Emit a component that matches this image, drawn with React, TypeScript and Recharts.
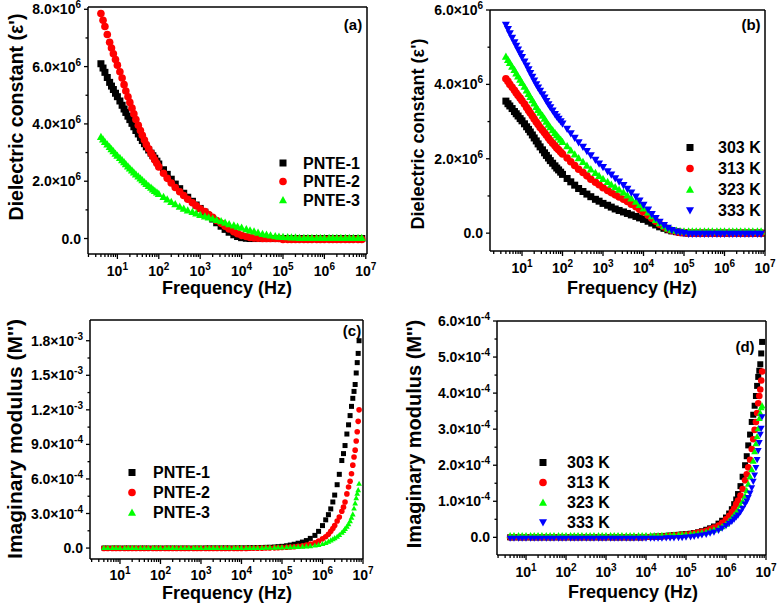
import { ReferenceLine, Scatter, ScatterChart, XAxis, YAxis } from 'recharts';

const FONT = '"Liberation Sans", Arial, Helvetica, sans-serif';

// frequency grid (Hz) for panels a and b (denser below 100 Hz where the curves are steep)
const FREQ_AB = [
  4, 4.5, 5, 5.7, 6.5, 7.2, 8, 9, 10, 11.5, 13, 14.5, 16, 18, 20, 22.5, 25, 28, 32, 36, 40, 45, 50, 57,
  65, 72, 80, 90, 100, 130, 160, 200, 250, 320, 400, 500, 650, 800, 1e3, 1.3e3, 1.6e3, 2e3, 2.5e3,
  3.2e3, 4e3, 5e3, 6.5e3, 8e3, 1e4, 1.3e4, 1.6e4, 2e4, 2.5e4, 3.2e4, 4e4, 5e4, 6.5e4, 8e4, 1e5,
  1.3e5, 1.6e5, 2e5, 2.5e5, 3.2e5, 4e5, 5e5, 6.5e5, 8e5, 1e6, 1.3e6, 1.6e6, 2e6, 2.5e6, 3.2e6, 4e6,
  5e6, 6.5e6, 8e6,
];

// frequency grid (Hz) for panels c and d (denser at the top end)
const FREQ_CD = [
  4, 5, 6.5, 8, 10, 13, 16, 20, 25, 32, 40, 50, 65, 80, 100, 130, 160, 200, 250, 320, 400, 500, 650,
  800, 1e3, 1.3e3, 1.6e3, 2e3, 2.5e3, 3.2e3, 4e3, 5e3, 6.5e3, 8e3, 1e4, 1.3e4, 1.6e4, 2e4, 2.5e4,
  3.2e4, 4e4, 5e4, 6.5e4, 8e4, 1e5, 1.3e5, 1.6e5, 2e5, 2.5e5, 3.2e5, 4e5, 5e5, 6.5e5, 8e5, 1e6,
  1.2e6, 1.4e6, 1.6e6, 1.8e6, 2e6, 2.3e6, 2.6e6, 3e6, 3.3e6, 3.6e6, 4e6, 4.4e6, 4.8e6, 5.2e6, 5.6e6,
  6e6, 6.4e6, 6.8e6, 7.2e6, 7.6e6, 8e6,
];

// (a) dielectric constant, x10^6
const A_PNTE1 = [
  6.1, 5.95, 5.8, 5.62, 5.45, 5.32, 5.2, 5.07, 4.95, 4.8, 4.65, 4.52, 4.4, 4.27, 4.15, 4.02, 3.9,
  3.77, 3.65, 3.53, 3.42, 3.31, 3.2, 3.09, 2.98, 2.89, 2.8, 2.7, 2.6, 2.4, 2.24, 2.07, 1.9, 1.74,
  1.58, 1.44, 1.3, 1.17, 1.05, 0.92, 0.8, 0.68, 0.55, 0.43, 0.32, 0.22, 0.13, 0.07, 0.03, 0.01, 0, 0,
  0, 0, 0, 0, 0, 0, 0, 0, 0, 0, 0, 0, 0, 0, 0, 0, 0, 0, 0, 0, 0, 0, 0, 0, 0, 0,
];
const A_PNTE2 = [
  7.85, 7.62, 7.4, 7.12, 6.85, 6.65, 6.45, 6.25, 6.05, 5.82, 5.6, 5.37, 5.15, 4.95, 4.75, 4.55, 4.35,
  4.15, 3.95, 3.77, 3.6, 3.44, 3.28, 3.13, 2.98, 2.86, 2.74, 2.62, 2.5, 2.28, 2.1, 1.94, 1.78, 1.63,
  1.5, 1.37, 1.25, 1.14, 1.04, 0.94, 0.84, 0.74, 0.63, 0.53, 0.43, 0.33, 0.24, 0.17, 0.11, 0.07, 0.04,
  0.02, 0.01, 0, 0, 0, 0, 0, -0.03, -0.03, -0.03, -0.03, -0.03, -0.03, -0.03, -0.03, -0.03, -0.03,
  -0.03, -0.03, -0.03, -0.03, -0.03, -0.03, -0.03, -0.03, -0.03, -0.03,
];
const A_PNTE3 = [
  3.55, 3.46, 3.38, 3.29, 3.2, 3.12, 3.05, 2.97, 2.9, 2.82, 2.74, 2.67, 2.6, 2.52, 2.45, 2.38, 2.31,
  2.24, 2.17, 2.1, 2.04, 1.97, 1.91, 1.84, 1.78, 1.72, 1.67, 1.61, 1.56, 1.46, 1.37, 1.28, 1.2, 1.12,
  1.05, 0.99, 0.93, 0.88, 0.83, 0.78, 0.74, 0.7, 0.65, 0.61, 0.56, 0.51, 0.46, 0.42, 0.38, 0.33, 0.29,
  0.25, 0.21, 0.17, 0.14, 0.11, 0.09, 0.07, 0.06, 0.05, 0.04, 0.04, 0.03, 0.03, 0.03, 0.03, 0.03,
  0.03, 0.03, 0.03, 0.03, 0.03, 0.03, 0.03, 0.03, 0.03, 0.03, 0.03,
];

// (b) dielectric constant vs temperature, x10^6
const B_303K = [
  3.55, 3.48, 3.42, 3.35, 3.27, 3.21, 3.15, 3.08, 3.02, 2.94, 2.86, 2.79, 2.72, 2.64, 2.56, 2.48, 2.4,
  2.32, 2.24, 2.16, 2.09, 2.02, 1.95, 1.88, 1.81, 1.75, 1.7, 1.64, 1.58, 1.47, 1.38, 1.29, 1.2, 1.12,
  1.05, 0.98, 0.91, 0.86, 0.8, 0.75, 0.7, 0.65, 0.61, 0.57, 0.53, 0.49, 0.45, 0.41, 0.37, 0.32, 0.27,
  0.22, 0.17, 0.13, 0.09, 0.06, 0.04, 0.02, 0.01, 0, 0, 0, 0, 0, 0, 0, 0, 0, 0, 0, 0, 0, 0, 0, 0, 0, 0,
  0,
];
const B_313K = [
  4.15, 4.08, 4.0, 3.92, 3.84, 3.77, 3.7, 3.63, 3.56, 3.47, 3.38, 3.3, 3.23, 3.15, 3.07, 2.99, 2.92,
  2.84, 2.77, 2.7, 2.63, 2.56, 2.49, 2.42, 2.35, 2.29, 2.24, 2.18, 2.13, 2.02, 1.92, 1.82, 1.72, 1.63,
  1.54, 1.45, 1.37, 1.3, 1.22, 1.15, 1.09, 1.03, 0.97, 0.91, 0.85, 0.78, 0.71, 0.64, 0.57, 0.48, 0.4,
  0.32, 0.24, 0.17, 0.11, 0.07, 0.04, 0.02, 0.01, 0, 0, 0, 0, 0, 0, 0, 0, 0, 0, 0, 0, 0, 0, 0, 0, 0, 0,
  0,
];
const B_323K = [
  4.75, 4.66, 4.58, 4.48, 4.39, 4.3, 4.22, 4.13, 4.04, 3.94, 3.84, 3.75, 3.67, 3.58, 3.49, 3.4, 3.32,
  3.24, 3.16, 3.08, 3.0, 2.92, 2.85, 2.77, 2.7, 2.64, 2.58, 2.52, 2.46, 2.34, 2.23, 2.12, 2.02, 1.92,
  1.82, 1.72, 1.62, 1.54, 1.46, 1.38, 1.31, 1.24, 1.17, 1.1, 1.02, 0.94, 0.85, 0.76, 0.67, 0.56, 0.46,
  0.36, 0.27, 0.19, 0.13, 0.09, 0.07, 0.06, 0.05, 0.05, 0.05, 0.05, 0.05, 0.05, 0.05, 0.05, 0.05,
  0.05, 0.05, 0.05, 0.05, 0.05, 0.05, 0.05, 0.05, 0.05, 0.05, 0.05,
];
const B_333K = [
  5.6, 5.48, 5.37, 5.25, 5.13, 5.03, 4.93, 4.83, 4.73, 4.61, 4.5, 4.4, 4.3, 4.2, 4.1, 4.0, 3.91, 3.82,
  3.73, 3.64, 3.55, 3.46, 3.38, 3.29, 3.2, 3.13, 3.07, 3.0, 2.94, 2.8, 2.68, 2.56, 2.44, 2.32, 2.2,
  2.09, 1.97, 1.87, 1.77, 1.66, 1.57, 1.47, 1.38, 1.29, 1.19, 1.09, 0.98, 0.87, 0.76, 0.63, 0.51,
  0.4, 0.3, 0.21, 0.14, 0.08, 0.04, 0.02, 0, -0.02, -0.02, -0.02, -0.02, -0.02, -0.02, -0.02, -0.02,
  -0.02, -0.02, -0.02, -0.02, -0.02, -0.02, -0.02, -0.02, -0.02, -0.02, -0.02,
];

// (c) imaginary modulus, x10^-4
const C_PNTE1 = [
  0, 0, 0, 0, 0, 0, 0, 0, 0, 0, 0, 0, 0, 0, 0, 0, 0, 0, 0, 0, 0, 0, 0, 0, 0, 0.01, 0.01, 0.01, 0.01,
  0.01, 0.01, 0.01, 0.01, 0.01, 0.02, 0.02, 0.03, 0.03, 0.04, 0.05, 0.06, 0.07, 0.09, 0.12, 0.15, 0.2,
  0.26, 0.33, 0.42, 0.52, 0.65, 0.84, 1.1, 1.45, 1.95, 2.45, 2.9, 3.4, 4.0, 4.6, 5.5, 6.4, 7.6, 8.2,
  8.9, 9.9, 10.7, 11.5, 12.3, 13.0, 13.6, 14.2, 15.2, 16.1, 16.9, 18.0,
];
const C_PNTE2 = [
  -0.03, -0.03, -0.03, -0.03, -0.03, -0.03, -0.03, -0.03, -0.03, -0.03, -0.03, -0.03, -0.03, -0.03,
  -0.03, -0.03, -0.03, -0.03, -0.03, -0.03, -0.03, -0.03, -0.03, -0.03, -0.03, -0.03, -0.03, -0.03,
  -0.03, -0.03, -0.03, -0.03, -0.03, -0.03, -0.03, -0.03, -0.02, -0.02, -0.01, -0.01, 0, 0.01, 0.02,
  0.03, 0.05, 0.07, 0.09, 0.12, 0.16, 0.2, 0.26, 0.34, 0.46, 0.6, 0.8, 0.98, 1.2, 1.45, 1.7, 1.95,
  2.35, 2.7, 3.2, 3.55, 4.0, 4.7, 5.3, 5.8, 6.45, 7.2, 7.9, 8.5, 9.3, 10.1, 11.0, 12.0,
];
const C_PNTE3 = [
  0.03, 0.03, 0.03, 0.03, 0.03, 0.03, 0.03, 0.03, 0.03, 0.03, 0.03, 0.03, 0.03, 0.03, 0.03, 0.03,
  0.03, 0.03, 0.03, 0.03, 0.03, 0.03, 0.03, 0.03, 0.03, 0.03, 0.03, 0.03, 0.03, 0.03, 0.03, 0.03,
  0.03, 0.03, 0.03, 0.03, 0.03, 0.04, 0.04, 0.04, 0.05, 0.05, 0.06, 0.07, 0.08, 0.09, 0.1, 0.11, 0.12,
  0.14, 0.16, 0.19, 0.24, 0.3, 0.37, 0.47, 0.58, 0.68, 0.78, 0.88, 1.0, 1.15, 1.35, 1.5, 1.68, 1.88,
  2.1, 2.35, 2.65, 2.95, 3.45, 3.9, 4.35, 4.75, 5.05, 5.6,
];

// (d) imaginary modulus vs temperature, x10^-4
const D_303K = [
  0, 0, 0, 0, 0, 0, 0, 0, 0, 0, 0, 0, 0, 0, 0, 0, 0, 0, 0, 0, 0, 0, 0, 0, 0, 0, 0, 0, 0, 0, 0, 0, 0, 0,
  0.01, 0.01, 0.02, 0.02, 0.03, 0.04, 0.05, 0.06, 0.07, 0.08, 0.09, 0.1, 0.12, 0.14, 0.17, 0.21, 0.25,
  0.3, 0.38, 0.46, 0.55, 0.66, 0.78, 0.92, 1.05, 1.2, 1.42, 1.68, 2.0, 2.25, 2.55, 2.85, 3.2, 3.4,
  3.65, 3.92, 4.2, 4.45, 4.62, 4.8, 5.1, 5.42,
];
const D_313K = [
  0, 0, 0, 0, 0, 0, 0, 0, 0, 0, 0, 0, 0, 0, 0, 0, 0, 0, 0, 0, 0, 0, 0, 0, 0, 0, 0, 0, 0, 0, 0, 0, 0, 0,
  0.01, 0.01, 0.01, 0.02, 0.02, 0.03, 0.04, 0.05, 0.06, 0.07, 0.08, 0.09, 0.11, 0.13, 0.15, 0.18,
  0.22, 0.27, 0.33, 0.4, 0.5, 0.6, 0.7, 0.8, 0.92, 1.02, 1.16, 1.34, 1.58, 1.75, 1.94, 2.15, 2.45,
  2.72, 2.98, 3.2, 3.45, 3.72, 3.92, 4.1, 4.35, 4.6,
];
const D_323K = [
  0.05, 0.05, 0.05, 0.05, 0.05, 0.05, 0.05, 0.05, 0.05, 0.05, 0.05, 0.05, 0.05, 0.05, 0.05, 0.05,
  0.05, 0.05, 0.05, 0.05, 0.05, 0.05, 0.05, 0.05, 0.05, 0.05, 0.05, 0.05, 0.05, 0.05, 0.05, 0.05,
  0.05, 0.05, 0.05, 0.05, 0.05, 0.05, 0.06, 0.06, 0.06, 0.07, 0.07, 0.08, 0.08, 0.09, 0.1, 0.11, 0.13,
  0.15, 0.18, 0.21, 0.25, 0.3, 0.37, 0.46, 0.54, 0.62, 0.7, 0.75, 0.88, 1.0, 1.15, 1.3, 1.48, 1.68,
  1.88, 2.12, 2.38, 2.6, 2.8, 3.02, 3.3, 3.45, 3.6, 3.65,
];
const D_333K = [
  -0.03, -0.03, -0.03, -0.03, -0.03, -0.03, -0.03, -0.03, -0.03, -0.03, -0.03, -0.03, -0.03, -0.03,
  -0.03, -0.03, -0.03, -0.03, -0.03, -0.03, -0.03, -0.03, -0.03, -0.03, -0.03, -0.03, -0.03, -0.03,
  -0.03, -0.03, -0.03, -0.03, -0.03, -0.03, -0.03, -0.03, -0.03, -0.03, -0.03, -0.02, -0.02, -0.02,
  -0.01, -0.01, 0, 0.01, 0.02, 0.04, 0.06, 0.08, 0.11, 0.14, 0.19, 0.25, 0.32, 0.38, 0.44, 0.5, 0.56,
  0.61, 0.7, 0.8, 0.92, 1.0, 1.1, 1.22, 1.37, 1.55, 1.72, 1.93, 2.15, 2.4, 2.62, 2.85, 3.02, 3.34,
];

// axis ticks
const X_MAJOR = [10, 100, 1e3, 1e4, 1e5, 1e6, 1e7];
const X_DECADES = [1, 10, 100, 1e3, 1e4, 1e5, 1e6];
const X_MULTS = [2, 3, 4, 5, 6, 7, 8, 9];
const X_TICKS = [...X_MAJOR, ...X_DECADES.flatMap((d) => X_MULTS.map((m) => m * d))];

const A_Y_MAJOR = [0, 2, 4, 6, 8];
const A_Y_MINOR = [1, 3, 5, 7];
const A_Y_LABELS = [['0.0', ''], ['2.0', '6'], ['4.0', '6'], ['6.0', '6'], ['8.0', '6']];

const B_Y_MAJOR = [0, 2, 4, 6];
const B_Y_MINOR = [1, 3, 5];
const B_Y_LABELS = [['0.0', ''], ['2.0', '6'], ['4.0', '6'], ['6.0', '6']];

const C_Y_MAJOR = [0, 3, 6, 9, 12, 15, 18];
const C_Y_MINOR = [1.5, 4.5, 7.5, 10.5, 13.5, 16.5];
const C_Y_LABELS = [
  ['0.0', ''], ['3.0', '-4'], ['6.0', '-4'], ['9.0', '-4'], ['1.2', '-3'], ['1.5', '-3'], ['1.8', '-3'],
];

const D_Y_MAJOR = [0, 1, 2, 3, 4, 5, 6];
const D_Y_MINOR = [0.5, 1.5, 2.5, 3.5, 4.5, 5.5];
const D_Y_LABELS = [
  ['0.0', ''], ['1.0', '-4'], ['2.0', '-4'], ['3.0', '-4'], ['4.0', '-4'], ['5.0', '-4'], ['6.0', '-4'],
];

const BLACK = '#000000';
const RED = '#ff0000';
const GREEN = '#00ff00';
const BLUE = '#0000ff';

type Kind = 'square' | 'circle' | 'up' | 'down';

function Marker({ cx, cy, kind, size, color }: { cx: number; cy: number; kind: Kind; size: number; color: string }) {
  const h = size / 2;
  if (kind === 'square') return <rect x={cx - h} y={cy - h} width={size} height={size} fill={color} />;
  if (kind === 'circle') return <circle cx={cx} cy={cy} r={h + 0.3} fill={color} />;
  const t = h * 1.15;
  if (kind === 'up')
    return <polygon points={`${cx},${cy - t} ${cx - t},${cy + t * 0.8} ${cx + t},${cy + t * 0.8}`} fill={color} />;
  return <polygon points={`${cx},${cy + t} ${cx - t},${cy - t * 0.8} ${cx + t},${cy - t * 0.8}`} fill={color} />;
}

interface SeriesDef {
  name: string;
  values: number[];
  color: string;
  kind: Kind;
}

interface PanelProps {
  left: number;
  top: number;
  freq: number[];
  series: SeriesDef[];
  xDomain: [number, number];
  yDomain: [number, number];
  yMajor: number[];
  yMinor: number[];
  yLabels: string[][];
  margin: { top: number; right: number };
  yWidth: number;
  xHeight: number;
  size: number;
  labelDy: number;
}

function Panel(p: PanelProps) {
  const renderXTick = (props: any) => {
    const { x, y, payload } = props;
    const lg = Math.log10(payload.value);
    const major = Math.abs(lg - Math.round(lg)) < 1e-6;
    return (
      <g>
        <line x1={x} x2={x} y1={y} y2={y + (major ? 5 : 3)} stroke="#000" strokeWidth={1.3} />
        {major && (
          <text x={x} y={y + p.labelDy} textAnchor="middle" fontSize={14} fontWeight={700} fontFamily={FONT} fill="#000">
            10
            <tspan dy={-6} fontSize={10}>
              {Math.round(lg)}
            </tspan>
          </text>
        )}
      </g>
    );
  };

  const renderYTick = (props: any) => {
    const { x, y, payload } = props;
    const idx = p.yMajor.indexOf(payload.value);
    const major = idx >= 0;
    const lab = major ? p.yLabels[idx] : null;
    return (
      <g>
        <line x1={x} x2={x - (major ? 4 : 2.5)} y1={y} y2={y} stroke="#000" strokeWidth={1.3} />
        {lab && (
          <text x={x - 7} y={y + 5} textAnchor="end" fontSize={14} fontWeight={700} fontFamily={FONT} fill="#000">
            {lab[1] ? `${lab[0]}×10` : lab[0]}
            {lab[1] && (
              <tspan dy={-6} fontSize={10}>
                {lab[1]}
              </tspan>
            )}
          </text>
        )}
      </g>
    );
  };

  return (
    <div style={{ position: 'absolute', left: p.left, top: p.top }}>
      <ScatterChart
        width={390}
        height={308}
        margin={{ top: p.margin.top, right: p.margin.right, bottom: 0, left: 0 }}
      >
        <XAxis
          dataKey="f"
          type="number"
          scale="log"
          domain={p.xDomain}
          allowDataOverflow
          ticks={X_TICKS.filter((t) => t >= p.xDomain[0] && t <= p.xDomain[1])}
          interval={0}
          tickSize={0}
          tickMargin={0}
          tickLine={false}
          tick={renderXTick}
          height={p.xHeight}
          axisLine={{ stroke: '#000', strokeWidth: 1.5 }}
        />
        <YAxis
          dataKey="v"
          type="number"
          domain={p.yDomain}
          allowDataOverflow
          ticks={[...p.yMajor, ...p.yMinor]}
          interval={0}
          tickSize={0}
          tickMargin={0}
          tickLine={false}
          tick={renderYTick}
          width={p.yWidth}
          axisLine={{ stroke: '#000', strokeWidth: 1.5 }}
        />
        <ReferenceLine y={p.yDomain[1]} stroke="#000" strokeWidth={1.5} />
        <ReferenceLine x={p.xDomain[1]} stroke="#000" strokeWidth={1.5} />
        {p.series.map((s) => (
          <Scatter
            key={s.name}
            name={s.name}
            data={p.freq.map((f, i) => ({ f, v: s.values[i] }))}
            isAnimationActive={false}
            shape={(sp: any) => <Marker cx={sp.cx} cy={sp.cy} kind={s.kind} size={p.size} color={s.color} />}
          />
        ))}
      </ScatterChart>
    </div>
  );
}

const PNTE_SERIES = (vals: number[][]): SeriesDef[] => [
  { name: 'PNTE-1', values: vals[0], color: BLACK, kind: 'square' },
  { name: 'PNTE-2', values: vals[1], color: RED, kind: 'circle' },
  { name: 'PNTE-3', values: vals[2], color: GREEN, kind: 'up' },
];
const TEMP_SERIES = (vals: number[][]): SeriesDef[] => [
  { name: '303 K', values: vals[0], color: BLACK, kind: 'square' },
  { name: '313 K', values: vals[1], color: RED, kind: 'circle' },
  { name: '323 K', values: vals[2], color: GREEN, kind: 'up' },
  { name: '333 K', values: vals[3], color: BLUE, kind: 'down' },
];

function LegendBlock({ x, y, tx, gap, items }: { x: number; y: number; tx: number; gap: number; items: SeriesDef[] }) {
  return (
    <g>
      {items.map((s, i) => (
        <g key={s.name}>
          <Marker cx={x} cy={y + i * gap} kind={s.kind} size={7} color={s.color} />
          <text x={tx} y={y + i * gap + 5.8} fontSize={16} fontWeight={700} fontFamily={FONT} fill="#000">
            {s.name}
          </text>
        </g>
      ))}
    </g>
  );
}

export default function App() {
  const aSeries = PNTE_SERIES([A_PNTE1, A_PNTE2, A_PNTE3]);
  const bSeries = TEMP_SERIES([B_303K, B_313K, B_323K, B_333K]);
  const cSeries = PNTE_SERIES([C_PNTE1, C_PNTE2, C_PNTE3]);
  const dSeries = TEMP_SERIES([D_303K, D_313K, D_323K, D_333K]);
  const txt = { fontFamily: FONT, fontWeight: 700, fill: '#000' };

  return (
    <div style={{ position: 'absolute', left: 0, top: 0, width: 780, height: 616, background: '#fff', fontFamily: FONT }}>
      <Panel
        left={0}
        top={0}
        freq={FREQ_AB}
        series={aSeries}
        xDomain={[1.95, 1.07e7]}
        yDomain={[-0.54, 8.08]}
        yMajor={A_Y_MAJOR}
        yMinor={A_Y_MINOR}
        yLabels={A_Y_LABELS}
        margin={{ top: 7, right: 23 }}
        yWidth={88}
        xHeight={54}
        size={7}
        labelDy={22}
      />
      <Panel
        left={390}
        top={0}
        freq={FREQ_AB}
        series={bSeries}
        xDomain={[1.62, 1e7]}
        yDomain={[-0.48, 6]}
        yMajor={B_Y_MAJOR}
        yMinor={B_Y_MINOR}
        yLabels={B_Y_LABELS}
        margin={{ top: 10, right: 15 }}
        yWidth={100}
        xHeight={57}
        size={7}
        labelDy={22}
      />
      <Panel
        left={0}
        top={308}
        freq={FREQ_CD}
        series={cSeries}
        xDomain={[1.82, 1e7]}
        yDomain={[-0.95, 19.8]}
        yMajor={C_Y_MAJOR}
        yMinor={C_Y_MINOR}
        yLabels={C_Y_LABELS}
        margin={{ top: 12, right: 27 }}
        yWidth={90}
        xHeight={57}
        size={5}
        labelDy={21}
      />
      <Panel
        left={390}
        top={308}
        freq={FREQ_CD}
        series={dSeries}
        xDomain={[1.88, 1e7]}
        yDomain={[-0.49, 6]}
        yMajor={D_Y_MAJOR}
        yMinor={D_Y_MINOR}
        yLabels={D_Y_LABELS}
        margin={{ top: 13, right: 14 }}
        yWidth={107}
        xHeight={61}
        size={6}
        labelDy={22}
      />

      <svg width={780} height={616} style={{ position: 'absolute', left: 0, top: 0, pointerEvents: 'none' }}>
        {/* axis titles */}
        <text x={227} y={294} textAnchor="middle" fontSize={18} {...txt}>Frequency (Hz)</text>
        <text x={632} y={294} textAnchor="middle" fontSize={18} {...txt}>Frequency (Hz)</text>
        <text x={227} y={599} textAnchor="middle" fontSize={18} {...txt}>Frequency (Hz)</text>
        <text x={633} y={598} textAnchor="middle" fontSize={18} {...txt}>Frequency (Hz)</text>
        <text transform="translate(23,117) rotate(-90)" textAnchor="middle" fontSize={19.5} {...txt}>
          Dielectric constant (ε')
        </text>
        <text transform="translate(424,134) rotate(-90)" textAnchor="middle" fontSize={18} {...txt}>
          Dielectric constant (ε')
        </text>
        <text transform="translate(22,439) rotate(-90)" textAnchor="middle" fontSize={21} {...txt}>
          Imaginary modulus (M'')
        </text>
        <text transform="translate(421,434) rotate(-90)" textAnchor="middle" fontSize={20} {...txt}>
          Imaginary modulus (M'')
        </text>

        {/* panel letters */}
        <text x={353} y={30} textAnchor="middle" fontSize={15} {...txt}>(a)</text>
        <text x={751} y={30} textAnchor="middle" fontSize={15} {...txt}>(b)</text>
        <text x={352} y={336} textAnchor="middle" fontSize={15} {...txt}>(c)</text>
        <text x={745} y={352} textAnchor="middle" fontSize={15} {...txt}>(d)</text>

        {/* legends */}
        <LegendBlock x={283} y={163} tx={303} gap={18.5} items={aSeries} />
        <LegendBlock x={690} y={147.5} tx={718} gap={21} items={bSeries} />
        <LegendBlock x={132} y={472.5} tx={153} gap={20} items={cSeries} />
        <LegendBlock x={543} y={462.5} tx={567} gap={20} items={dSeries} />
      </svg>
    </div>
  );
}
